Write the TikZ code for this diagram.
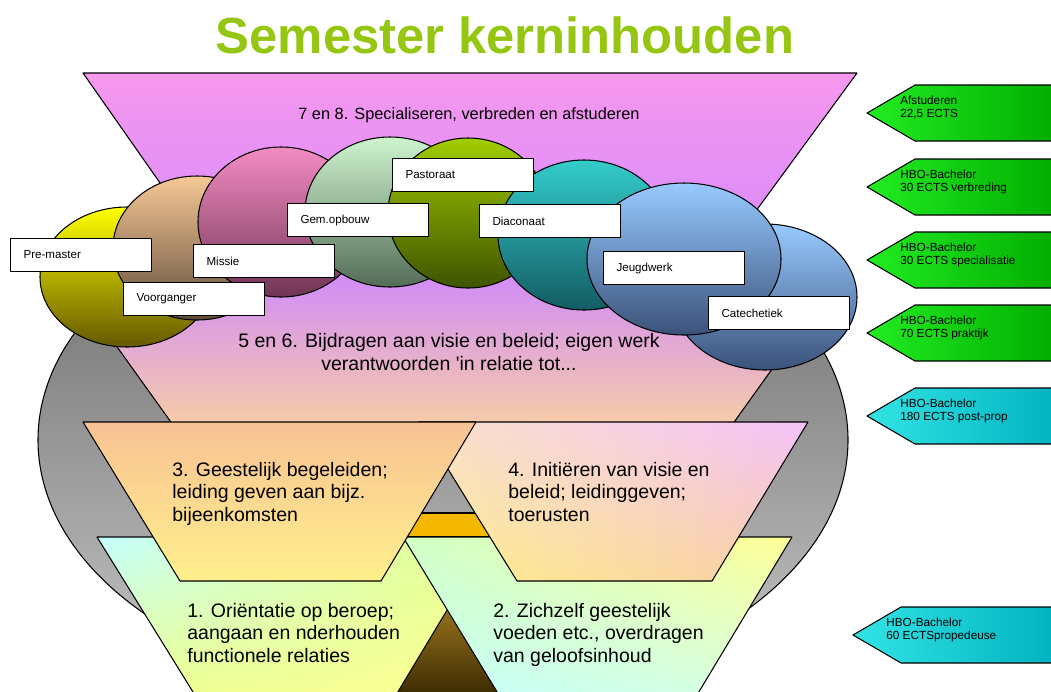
\documentclass[tikz,border=0pt]{standalone}
\usepackage{fontspec}
\setmainfont{Liberation Sans}
\usetikzlibrary{positioning,shadings}

% colours of the slide
\definecolor{titlegreen}{RGB}{148,198,18}
\definecolor{topviolet}{RGB}{246,152,238}
\definecolor{midviolet}{RGB}{218,140,250}
\definecolor{lowviolet}{RGB}{208,138,250}
\definecolor{peach}{RGB}{247,204,168}
\definecolor{orangepeach}{RGB}{248,194,148}
\definecolor{lightyellow}{RGB}{255,240,140}
\definecolor{palepink}{RGB}{244,194,250}
\definecolor{paleyellow}{RGB}{255,255,150}
\definecolor{palecyan}{RGB}{196,255,255}
\definecolor{gold}{RGB}{244,184,0}
\definecolor{browntop}{RGB}{160,122,30}
\definecolor{brownlow}{RGB}{52,36,0}
\definecolor{yellowtop}{RGB}{255,255,0}
\definecolor{yellowlow}{RGB}{100,88,0}
\definecolor{tantop}{RGB}{246,200,150}
\definecolor{tanlow}{RGB}{95,75,58}
\definecolor{pinktop}{RGB}{244,140,196}
\definecolor{pinklow}{RGB}{112,52,84}
\definecolor{mintop}{RGB}{206,244,206}
\definecolor{minlow}{RGB}{84,108,88}
\definecolor{olivetop}{RGB}{162,204,0}
\definecolor{olivelow}{RGB}{62,84,0}
\definecolor{tealtop}{RGB}{52,204,204}
\definecolor{teallow}{RGB}{18,92,98}
\definecolor{bluetop}{RGB}{152,202,255}
\definecolor{bluelow}{RGB}{58,82,122}
\definecolor{arrowgreen}{RGB}{34,236,34}
\definecolor{arrowdarkgreen}{RGB}{0,172,0}
\definecolor{arrowcyan}{RGB}{50,228,228}
\definecolor{arrowdarkcyan}{RGB}{0,178,192}

\begin{document}
\begin{tikzpicture}[x=0.02cm, y=-0.02cm]
	% one unit is one pixel of the slide, y runs downwards
	\tikzset{
		outline/.style={draw=black, line width=0.6pt, line join=round},
		blob/.style 2 args={outline, top color=#1, bottom color=#2}, % the work field ellipses
		namebox/.style={draw=black, fill=white, line width=0.6pt, anchor=north west,
			text width=2.3cm, inner xsep=0.26cm, inner ysep=0pt, minimum height=0.66cm,
			align=left, font=\fontsize{6.6}{7.5}\selectfont},
		ectsarrow/.style 2 args={outline, left color=#1, right color=#2},
		ectstext/.style={anchor=north west, inner sep=0pt, align=left, font=\fontsize{6.7}{7.4}\selectfont},
		steptext/.style={anchor=north west, inner sep=0pt, align=left, font=\fontsize{11.1}{12.8}\selectfont},
	}
	\path[use as bounding box] (0,0) rectangle (1051,691);

	\node[anchor=base, text=titlegreen, font=\fontsize{28.9}{34}\selectfont\bfseries] (title) at (505,53) {Semester kerninhouden};

	% big grey ellipse behind everything
	\coordinate (back) at (443,440);
	\draw[outline, top color=black!60, bottom color=black!22] (back) ellipse (405 and 257);

	% semesters 7 and 8, semesters 5 and 6
	\draw[outline, top color=topviolet, bottom color=midviolet] (83,73) -- (857,73) -- (742,230) -- (193,230) -- cycle;
	\draw[outline, top color=lowviolet, bottom color=peach] (62,270) -- (843,270) -- (732,425) -- (173,425) -- cycle;
	\node[anchor=base, font=\fontsize{9.3}{11}\selectfont] (sem78) at (469,119) {7 en 8. Specialiseren, verbreden en afstuderen};

	% the work fields, left to right
	\draw[blob={yellowtop}{yellowlow}] (127,277) ellipse (87 and 70);
	\draw[blob={tantop}{tanlow}] (197,248) ellipse (84 and 72);
	\draw[blob={pinktop}{pinklow}] (281,222) ellipse (83 and 75);
	\draw[blob={mintop}{minlow}] (390,212) ellipse (85 and 75);
	\draw[blob={olivetop}{olivelow}] (468,213) ellipse (80 and 75);
	\draw[blob={tealtop}{teallow}] (584,235) ellipse (86 and 75);
	\draw[blob={bluetop}{bluelow}] (765,297) ellipse (92 and 73);
	\draw[blob={bluetop}{bluelow}] (684,259) ellipse (97 and 76);

	\node[namebox] (premaster) at (10,238) {Pre-master};
	\node[namebox] (voorganger) at (123,282) {Voorganger};
	\node[namebox] (missie) at (193,244) {Missie};
	\node[namebox] (gemopbouw) at (287,203) {Gem.opbouw};
	\node[namebox] (pastoraat) at (392,158) {Pastoraat};
	\node[namebox] (diaconaat) at (479,204) {Diaconaat};
	\node[namebox] (jeugdwerk) at (603,251) {Jeugdwerk};
	\node[namebox] (catechetiek) at (708,296) {Catechetiek};

	\node[anchor=north, align=center, inner sep=0pt, font=\fontsize{11.1}{13}\selectfont] (sem56) at (449,333)
		{5 en 6. Bijdragen aan visie en beleid; eigen werk\\verantwoorden \textquotesingle in relatie tot...};

	% gold band and dark triangle seen through the gaps
	\draw[outline, fill=gold] (398,513) rectangle (497,537);
	\shade[top color=browntop, bottom color=brownlow] (447,598) -- (378,703) -- (516,703) -- cycle;

	% semesters 1 and 2
	\draw[outline, upper left=palecyan, upper right=green!10!paleyellow, lower left=green!8!paleyellow, lower right=paleyellow]
		(97,537) -- (491,537) -- (393,700) -- (198,700) -- cycle;
	\draw[outline, upper left=green!10!palecyan!60!paleyellow, upper right=paleyellow, lower left=palecyan, lower right=palecyan!70!paleyellow]
		(403,537) -- (792,537) -- (694,700) -- (502,700) -- cycle;
	\node[steptext] (sem1) at (187,603) {1. Oriëntatie op beroep;\\aangaan en nderhouden\\functionele relaties};
	\node[steptext] (sem2) at (493,603) {2. Zichzelf geestelijk\\voeden etc., overdragen\\van geloofsinhoud};

	% semesters 3 and 4
	\draw[outline, upper left=peach!60!white, upper right=palepink, lower left=lightyellow, lower right=peach]
		(419,422) -- (808,422) -- (712,581) -- (517,581) -- cycle;
	\draw[outline, top color=orangepeach, bottom color=lightyellow] (83,422) -- (476,422) -- (381,581) -- (180,581) -- cycle;
	\node[steptext] (sem3) at (172,462) {3. Geestelijk begeleiden;\\leiding geven aan bijz.\\bijeenkomsten};
	\node[steptext] (sem4) at (508,462) {4. Initiëren van visie en\\beleid; leidinggeven;\\toerusten};

	% ECTS signs on the right
	\draw[ectsarrow={arrowgreen}{arrowdarkgreen}] (867,113) -- (915,85) -- (1060,85) -- (1060,141) -- (915,141) -- cycle;
	\draw[ectsarrow={arrowgreen}{arrowdarkgreen}] (867,187) -- (915,159) -- (1060,159) -- (1060,215) -- (915,215) -- cycle;
	\draw[ectsarrow={arrowgreen}{arrowdarkgreen}] (867,260) -- (915,232) -- (1060,232) -- (1060,288) -- (915,288) -- cycle;
	\draw[ectsarrow={arrowgreen}{arrowdarkgreen}] (867,333) -- (915,305) -- (1060,305) -- (1060,361) -- (915,361) -- cycle;
	\draw[ectsarrow={arrowcyan}{arrowdarkcyan}] (867,416) -- (915,388) -- (1060,388) -- (1060,444) -- (915,444) -- cycle;
	\draw[ectsarrow={arrowcyan}{arrowdarkcyan}] (853,635) -- (901,607) -- (1060,607) -- (1060,663) -- (901,663) -- cycle;
	\node[ectstext] (afstuderen) at (900,96) {Afstuderen\\22,5 ECTS};
	\node[ectstext] (verbreding) at (900,170) {HBO-Bachelor\\30 ECTS verbreding};
	\node[ectstext] (specialisatie) at (900,243) {HBO-Bachelor\\30 ECTS specialisatie};
	\node[ectstext] (praktijk) at (900,316) {HBO-Bachelor\\70 ECTS praktijk};
	\node[ectstext] (postprop) at (900,399) {HBO-Bachelor\\180 ECTS post-prop};
	\node[ectstext] (propedeuse) at (886,618) {HBO-Bachelor\\60 ECTSpropedeuse};
\end{tikzpicture}
\end{document}
